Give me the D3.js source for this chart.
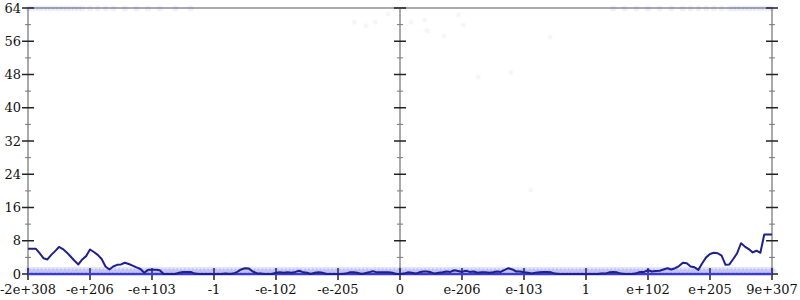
<!DOCTYPE html>
<html><head><meta charset="utf-8">
<script src="https://cdn.jsdelivr.net/npm/d3@7"></script>
<style>body{margin:0;background:#fff}svg{display:block}</style>
</head><body><svg id="c" width="800" height="300"></svg>
<script>
// Tick labels along x (positions -6..6)
const xTickLabels = ["-2e+308","-e+206","-e+103","-1","-e-102","-e-205","0","e-206","e-103","1","e+102","e+205","9e+307"];
const yTicks = [0,8,16,24,32,40,48,56,64];
const binsPerTick = 16;
// moving-average series (one value per bin, 193 bins)
const series = [
 6.1,6.1,6.1,5.0,3.8,3.5,4.6,5.5,6.5,6.0,5.2,4.2,3.2,2.3,3.5,4.3,
 5.9,5.3,4.6,3.6,1.8,1.1,1.8,2.2,2.3,2.7,2.4,2.0,1.6,1.2,0.3,1.0,
 1.0,1.0,0.9,0,0,0,0,0.3,0.5,0.5,0.5,0.1,0,0,0,0,
 0,0,0,0.1,0,0.1,0.5,1.1,1.4,1.3,0.6,0.2,0.1,0,0,0,
 0.3,0.4,0.3,0.4,0.3,0.5,0.8,0.4,0.3,0,0.3,0.4,0.3,0,0,0,
 0,0,0.1,0.4,0.4,0.3,0,0.2,0.4,0.7,0.4,0.4,0.4,0.4,0.3,0,
 0,0.1,0.4,0.3,0.1,0.4,0.6,0.6,0.4,0.1,0.3,0.4,0.6,0.5,0.9,0.7,
 0.5,0.8,0.5,0.6,0.3,0.4,0.4,0.3,0.4,0.6,0.5,1.0,1.4,1.1,0.6,0.6,
 0.4,0.3,0.1,0.3,0.4,0.5,0.5,0.4,0.1,0,0,0,0,0,0,0,
 0,0,0,0,0.1,0.1,0.4,0.5,0.4,0.1,0,0,0,0.2,0.5,0.5,
 0.9,0.6,0.7,0.8,1.1,1.4,1.1,1.4,1.9,2.7,2.6,1.8,1.6,1.0,2.6,4.0,
 4.8,5.1,5.0,4.4,2.2,2.3,3.6,5.0,7.4,6.6,6.0,5.2,5.6,5.1,9.5,9.5,
 9.5
];
// bins where samples hit the top value 64
const topHitBins = [0,1,2,3,4,5,6,7,8,9,10,11,12,13,14,16,18,20,22,25,28,31,34,38,42,
  151,154,157,160,163,166,169,171,173,175,177,179,181,182,183,184,185,186,187,188,189,190,191,192];
const topValue = 64;
// scattered samples [position, value]
const scatter = [[-0.74,60.6],[-0.55,59.7],[-0.40,60.6],[-0.19,62.6],[0.18,60.6],[0.40,61.1],[0.44,58.5],
  [0.71,57.3],[0.94,62.3],[1.02,59.9],[2.11,20.2],[1.26,47.4],[1.79,48.4],[2.42,57.0]];

const svg = d3.select("#c");
const x = d3.scaleLinear().domain([-6,6]).range([28,772]);
const y = d3.scaleLinear().domain([0,64]).range([274,8]);
const binPos = i => -6 + i / binsPerTick;

// axes lines
const g = svg.append("g");
g.append("line").attr("x1",x(-6)).attr("x2",x(6)).attr("y1",y(64)).attr("y2",y(64)).attr("stroke","#aaa").attr("stroke-width",2);
g.append("line").attr("x1",x(-6)).attr("x2",x(6)).attr("y1",y(0)).attr("y2",y(0)).attr("stroke","#aaa").attr("stroke-width",2);
const minorTicks = d3.range(0,65,4);
[-6,0,6].forEach(p=>{
  g.append("line").attr("x1",x(p)).attr("x2",x(p)).attr("y1",y(0)).attr("y2",y(64)).attr("stroke","#aaa").attr("stroke-width",2);
  minorTicks.forEach(t=>{
    const major = t % 8 === 0;
    const w = major ? 6 : 3;
    g.append("line").attr("x1",x(p)-w).attr("x2",x(p)+w).attr("y1",y(t)).attr("y2",y(t))
      .attr("stroke", major ? "#222" : "#777").attr("stroke-width", major ? 1.5 : 1);
  });
});
// y labels
g.selectAll("text.yl").data(yTicks).enter().append("text").attr("class","yl")
  .attr("x",x(-6)-7).attr("y",d=>y(d)).attr("dy","0.36em").attr("text-anchor","end")
  .attr("font-family","DejaVu Serif").attr("font-size",13).attr("fill","#111").text(d=>d);
// x ticks and labels
const xt = d3.range(-6,7);
g.selectAll("line.xt").data(xt).enter().append("line").attr("class","xt")
  .attr("x1",d=>x(d)).attr("x2",d=>x(d)).attr("y1",y(0)-6).attr("y2",y(0)+6).attr("stroke","#222").attr("stroke-width",1.5);
g.selectAll("text.xl").data(xt).enter().append("text").attr("class","xl")
  .attr("x",d=>x(d)).attr("y",294).attr("text-anchor","middle")
  .attr("font-family","DejaVu Serif").attr("font-size",13).attr("fill","#111").text((d,i)=>xTickLabels[i]);

// sample dots
const dots = svg.append("g");
series.forEach((v,i)=>{
  dots.append("circle").attr("cx",x(binPos(i))).attr("cy",y(1)).attr("r",3).attr("fill","#3333dd").attr("opacity",0.12);
  dots.append("circle").attr("cx",x(binPos(i)+0.5/binsPerTick)).attr("cy",y(0.5)).attr("r",3).attr("fill","#3333dd").attr("opacity",0.1);
});
topHitBins.forEach(i=>{
  dots.append("circle").attr("cx",x(binPos(i))).attr("cy",y(topValue)+0.5).attr("r",3).attr("fill","#3333dd").attr("opacity",0.07);
});
scatter.forEach(d=>{
  dots.append("circle").attr("cx",x(d[0])).attr("cy",y(d[1])).attr("r",2.5).attr("fill","#3333dd").attr("opacity",0.05);
});
// zero baseline of samples
svg.append("line").attr("x1",x(-6)).attr("x2",x(6)).attr("y1",y(0)).attr("y2",y(0)).attr("stroke","#3a3ad6").attr("stroke-width",2.5);

// moving line
const line = d3.line().x((d,i)=>x(binPos(i))).y(d=>y(d)).curve(d3.curveLinear);
svg.append("path").datum(series).attr("d",line).attr("fill","none").attr("stroke","#1f1f8e").attr("stroke-width",2).attr("stroke-linejoin","round");
</script></body></html>
